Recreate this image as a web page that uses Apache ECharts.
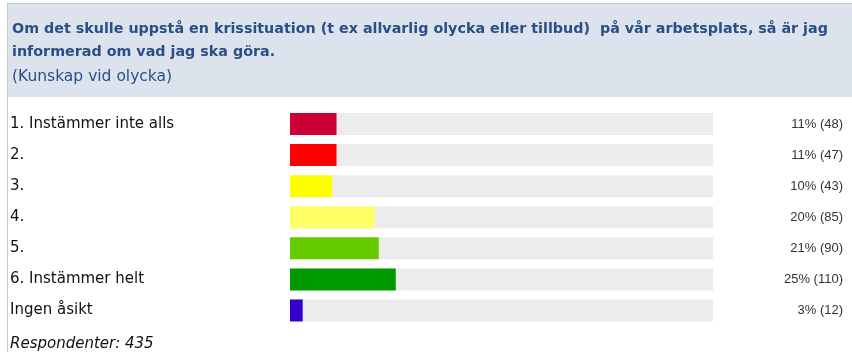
<!DOCTYPE html>
<html>
<head>
<meta charset="utf-8">
<script src="https://cdn.jsdelivr.net/npm/echarts@6/dist/echarts.min.js"></script>
<style>
  html, body { margin: 0; padding: 0; background: #ffffff; }
  #chart { width: 852px; height: 352px; }
</style>
</head>
<body>
<div id="chart"></div>
<script>
// Survey answers: "Kunskap vid olycka"
const categories = ['1. Instämmer inte alls', '2.', '3.', '4.', '5.', '6. Instämmer helt', 'Ingen åsikt'];
const percents = [11, 11, 10, 20, 21, 25, 3];
const counts = [48, 47, 43, 85, 90, 110, 12];
const barColors = ['#cc0033', '#ff0000', '#ffff00', '#ffff66', '#66cc00', '#009900', '#3300cc'];
const respondents = 435;

const questionText = 'Om det skulle uppstå en krissituation (t ex allvarlig olycka eller tillbud)  på vår arbetsplats, så är jag\ninformerad om vad jag ska göra.';
const subText = '(Kunskap vid olycka)';

const valueLabels = percents.map((p, i) => p + '% (' + counts[i] + ')');

const chart = echarts.init(document.getElementById('chart'), null, { renderer: 'canvas' });

chart.setOption({
  animation: false,
  backgroundColor: '#ffffff',
  graphic: [
    { type: 'rect', shape: { x: 7, y: 3, width: 845, height: 94 }, style: { fill: '#dce3ed' }, z: -10 },
    { type: 'line', shape: { x1: 7, y1: 3.5, x2: 852, y2: 3.5 }, style: { stroke: '#c4c8cc', lineWidth: 1 }, z: -5 },
    { type: 'line', shape: { x1: 7.5, y1: 3, x2: 7.5, y2: 352 }, style: { stroke: '#c8c8c8', lineWidth: 1 }, z: -5 },
    {
      type: 'text', left: 10, top: 337,
      style: { text: 'Respondenter: ' + respondents, font: 'italic 15px "DejaVu Sans"', fill: '#111111' }
    }
  ],
  title: {
    text: questionText,
    subtext: subText,
    left: 7,
    top: 13,
    itemGap: 5,
    textStyle: { fontFamily: '"DejaVu Sans"', fontSize: 14.3, fontWeight: 'bold', color: '#2a4f87', lineHeight: 23 },
    subtextStyle: { fontFamily: '"DejaVu Sans"', fontSize: 15.5, color: '#2a4f87' }
  },
  grid: { left: 290, right: 139, top: 108.5, height: 217.5, containLabel: false },
  xAxis: {
    type: 'value', min: 0, max: 100, show: false
  },
  yAxis: [
    {
      type: 'category', data: categories, inverse: true,
      axisLine: { show: false }, axisTick: { show: false },
      axisLabel: { align: 'left', margin: 280, fontFamily: '"DejaVu Sans"', fontSize: 15, color: '#111111', padding: [6, 0, 0, 0] }
    },
    {
      type: 'category', data: valueLabels, inverse: true, position: 'right',
      axisLine: { show: false }, axisTick: { show: false },
      axisLabel: { align: 'right', margin: 130, fontFamily: '"Liberation Sans", Arial', fontSize: 13, color: '#333333', padding: [4, 0, 0, 0] }
    }
  ],
  series: [{
    type: 'bar',
    data: percents.map((v, i) => ({ value: v, itemStyle: { color: barColors[i] } })),
    barWidth: 22,
    showBackground: true,
    backgroundStyle: { color: '#ececec' },
    silent: true
  }]
});
</script>
</body>
</html>
